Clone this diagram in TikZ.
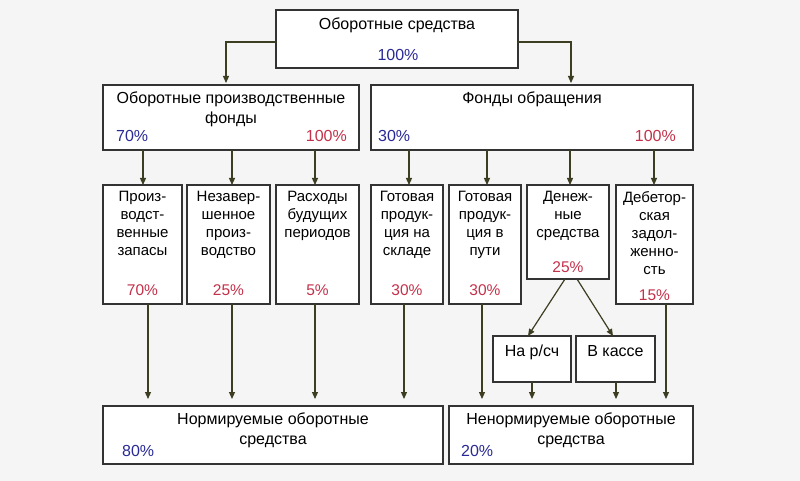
\documentclass[tikz,border=0pt]{standalone}
\usepackage{fontspec}
\setmainfont{Liberation Sans}
\usetikzlibrary{arrows.meta,calc}
\definecolor{bg}{HTML}{F5F5F5}
\definecolor{ln}{HTML}{3D3D22}
\definecolor{bl}{HTML}{2A2A96}
\definecolor{rd}{HTML}{C4314B}
\newcommand\mkbox[5]{\node[box, minimum width={#4-#2}, minimum height={#5-#3}] (#1) at (#2,#3) {};}
\begin{document}
\begin{tikzpicture}[x=1pt,y=-1pt,
 box/.style={draw=black!80, line width=1.3pt, fill=white, inner sep=0, outer sep=0, anchor=north west},
 arr/.style={draw=ln, line width=1.2pt, -{Triangle[length=7pt,width=6pt]}},
 big/.style={font=\fontsize{16}{20}\selectfont, align=center, inner sep=0},
 sm/.style={font=\fontsize{15}{18}\selectfont, align=center, inner sep=0, anchor=north},
 pb/.style={font=\fontsize{16}{19}\selectfont, text=bl, inner sep=0},
 pr/.style={font=\fontsize{16}{19}\selectfont, text=rd, inner sep=0},
 ps/.style={font=\fontsize{15.5}{18}\selectfont, text=rd, inner sep=0, anchor=base},
]
\fill[bg] (0,0) rectangle (800,481);
\useasboundingbox (0,0) rectangle (800,481);
% boxes
\mkbox{top}{276}{10}{518}{68}
\mkbox{L}{103}{85}{359}{150}
\mkbox{R}{371}{85}{693}{150}
\mkbox{b1}{103}{185}{182}{304}
\mkbox{b2}{187}{185}{270}{304}
\mkbox{b3}{276}{185}{359}{304}
\mkbox{b4}{371}{185}{443}{304}
\mkbox{b5}{449}{185}{521}{304}
\mkbox{b6}{527}{185}{609}{279}
\mkbox{b7}{616}{185}{693}{304}
\mkbox{nr}{493}{336}{571}{382}
\mkbox{nk}{576}{336}{655}{382}
\mkbox{BL}{103}{406}{443}{464}
\mkbox{BR}{449}{406}{693}{464}
% texts
\node[big, anchor=base] (t0) at (397,30) {Оборотные средства};
\node[pb, anchor=base] (t0p) at (398,61) {100\%};
\node[big, anchor=north] (tL) at (231,92) {Оборотные производственные\\фонды};
\node[pb, anchor=base west] (tLb) at (116,142) {70\%};
\node[pr, anchor=base east] (tLr) at (347,142) {100\%};
\node[big, anchor=base] (tR) at (532,104) {Фонды обращения};
\node[pb, anchor=base west] (tRb) at (378,142) {30\%};
\node[pr, anchor=base east] (tRr) at (676,142) {100\%};
\node[sm] (t1) at (142.5,191) {Произ-\\водст-\\венные\\запасы};
\node[sm] (t2) at (228.5,191) {Незавер-\\шенное\\произ-\\водство};
\node[sm] (t3) at (317.5,191) {Расходы\\будущих\\периодов};
\node[sm] (t4) at (407,191) {Готовая\\продук-\\ция на\\складе};
\node[sm] (t5) at (485,191) {Готовая\\продук-\\ция в\\пути};
\node[sm] (t6) at (568,191) {Денеж-\\ные\\средства};
\node[sm] (t7) at (654.5,191) {Дебетор-\\ская\\задол-\\женно-\\сть};
\node[ps] (p1) at (142.5,295) {70\%};
\node[ps] (p2) at (228.5,295) {25\%};
\node[ps] (p3) at (317.5,295) {5\%};
\node[ps] (p4) at (407,295) {30\%};
\node[ps] (p5) at (485,295) {30\%};
\node[ps] (p6) at (568,272) {25\%};
\node[ps] (p7) at (654.5,300) {15\%};
\node[big, anchor=base] (tnr) at (532,356) {На р/сч};
\node[big, anchor=base] (tnk) at (615.5,356) {В кассе};
\node[big, anchor=north] (tBL) at (273,413) {Нормируемые оборотные\\средства};
\node[pb, anchor=base west] (tBLb) at (122,456) {80\%};
\node[big, anchor=north] (tBR) at (571,413) {Ненормируемые оборотные\\средства};
\node[pb, anchor=base west] (tBRb) at (461,456) {20\%};
% connectors
\draw[arr, shorten >=2pt] ([yshift=-3pt]top.west) -| ([xshift=-5pt]L.north);
\draw[arr, shorten >=2pt] ([yshift=-3pt]top.east) -| ([xshift=3pt]b6.north |- R.north);
\foreach \b/\s in {b1/0.5,b2/3.5,b3/-2.5}{\draw[arr] ([xshift=\s pt]\b.north |- L.south) -- ([xshift=\s pt]\b.north);}
\foreach \b/\s in {b4/2,b5/2,b6/2,b7/-0.5}{\draw[arr] ([xshift=\s pt]\b.north |- R.south) -- ([xshift=\s pt]\b.north);}
\foreach \b/\s in {b1/5.5,b2/3.5,b3/-2.5}{\draw[arr, shorten >=7pt] ([xshift=\s pt]\b.south) -- ([xshift=\s pt]\b.south |- BL.north);}
\foreach \b/\s in {b4/-3,b5/-3,nr/0,nk/0.5,b7/11.5}{\draw[arr, shorten >=7pt] ([xshift=\s pt]\b.south) -- ([xshift=\s pt]\b.south |- BR.north);}
\draw[arr] ([xshift=-3pt]b6.south) -- ([xshift=-4pt]nr.north);
\draw[arr] ([xshift=9pt]b6.south) -- ([xshift=-2.5pt]nk.north);
\end{tikzpicture}
\end{document}
